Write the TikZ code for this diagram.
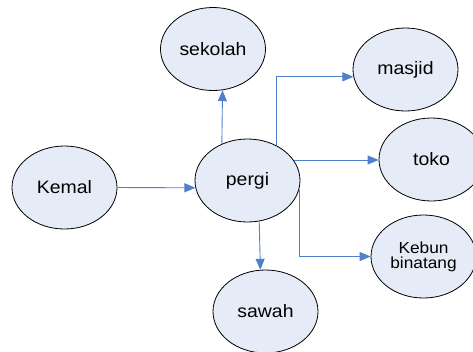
\documentclass[tikz,border=0pt]{standalone}
\usepackage{fontspec}
\setmainfont[FakeStretch=1.08]{Liberation Sans}
\usetikzlibrary{arrows.meta,shapes.geometric}
\definecolor{bubblefill}{HTML}{E6ECF7}
\definecolor{linkblue}{HTML}{4F80CC}
\begin{document}
\begin{tikzpicture}[x=1pt,y=-1pt,
  bubble/.style={ellipse,draw=black,line width=0.8pt,fill=bubblefill,
    minimum width=105pt,minimum height=83pt,inner sep=0pt,
    font=\fontsize{18}{18}\selectfont},
  link/.style={draw=linkblue,line width=0.9pt,
    -{Triangle[length=11pt,width=9pt]}}]
\clip (0,0) rectangle (473,351);
\fill[white] (0,0) rectangle (473,351);

\node[bubble] (kemal)   at (64.5,187.5) {Kemal};
\node[bubble] (pergi)   at (247.5,180.5) {pergi};
\node[bubble] (sekolah) at (213,49) {sekolah};
\node[bubble] (masjid)  at (405.5,69.5) {masjid};
\node[bubble] (toko)    at (431.5,159.5) {toko};
\node[bubble,align=center,font=\fontsize{16}{15}\selectfont]
  (kebun) at (423.5,256.5) {Kebun\\binatang};
\node[bubble] (sawah)   at (265.5,311.5) {sawah};

\draw[link] (kemal.east) -- (pergi.188);
\draw[link] (pergi.125) -- (sekolah.-77);
\draw[link] (pergi.51) |- (masjid.188);
\draw[link] (pergi.24) -- (pergi.24 -| toko.west);
\draw[link] (pergi.-10) |- (kebun.west);
\draw[link] (pergi.-74) -- (sawah.97);
\end{tikzpicture}
\end{document}
